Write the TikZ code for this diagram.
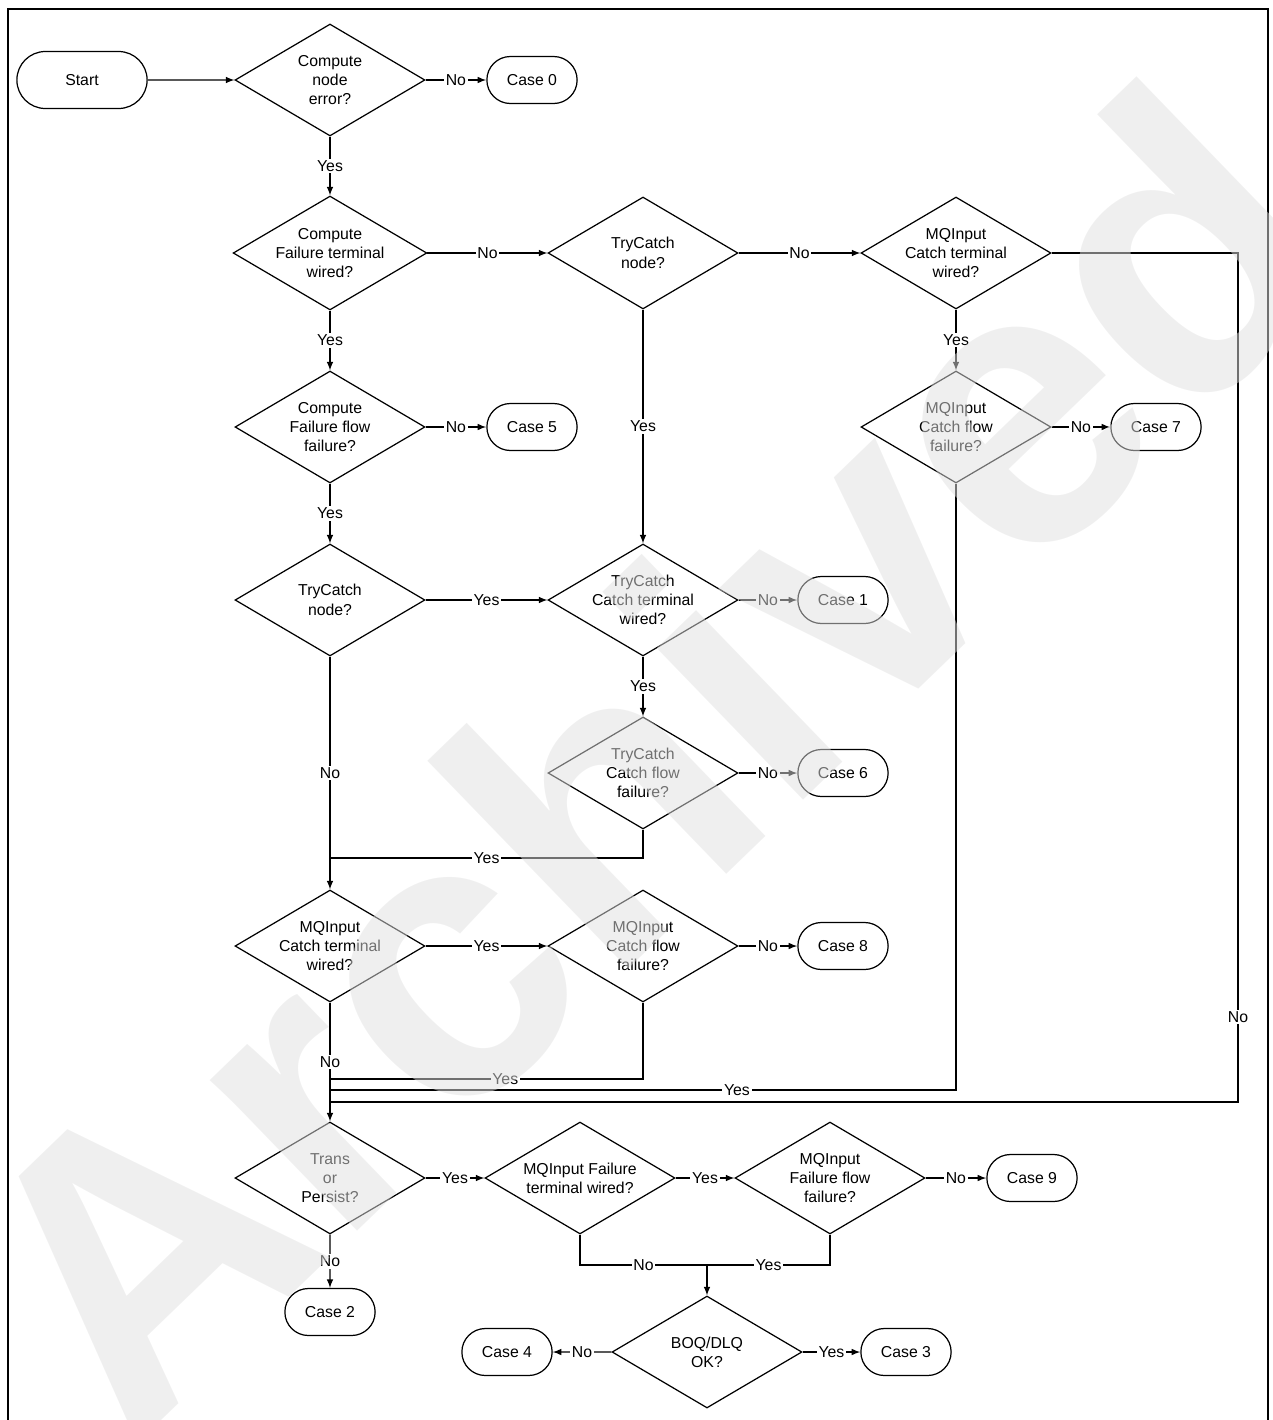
\documentclass[tikz,border=0pt]{standalone}
\usepackage{fontspec}
\setmainfont{Liberation Sans}
\usetikzlibrary{shapes.geometric,shapes.misc}

\begin{document}
\begin{tikzpicture}[x=0.02cm,y=-0.02cm,>=latex,line width=0.7pt,
    every node/.style={font=\fontsize{9}{11}\selectfont},
    decision/.style={draw,diamond,aspect=1.7,inner sep=0pt,minimum width=3.8cm,minimum height=2.24cm,align=center},
    casebox/.style={draw,rounded rectangle,minimum width=2.04cm,minimum height=0.94cm},
    lbl/.style={fill=white,inner sep=1pt},
    wmark/.style={rotate=44,text=black!12,text opacity=0.5,inner sep=0pt,font=\bfseries\fontsize{227}{227}\selectfont}]
        \useasboundingbox (0,0) rectangle (1273,1420);
        \draw[line width=1pt] (8,1420) -- (8,9) -- (1268,9) -- (1268,1420);
        \node[draw,rounded rectangle,minimum width=2.84cm,minimum height=1.14cm] (start) at (82,80) {Start};
        \node[decision] (cne) at (330,80) {Compute\\node\\error?};
        \node[decision] (cft) at (330,253) {Compute\\Failure terminal\\wired?};
        \node[decision] (cff) at (330,427) {Compute\\Failure flow\\failure?};
        \node[decision] (tcn) at (330,600) {TryCatch\\node?};
        \node[decision] (mct) at (330,946) {MQInput\\Catch terminal\\wired?};
        \node[decision] (tp) at (330,1178) {Trans\\or\\Persist?};
        \node[decision] (tcn2) at (643,253) {TryCatch\\node?};
        \node[decision] (tct) at (643,600) {TryCatch\\Catch terminal\\wired?};
        \node[decision] (tcf) at (643,773) {TryCatch\\Catch flow\\failure?};
        \node[decision] (mcf) at (643,946) {MQInput\\Catch flow\\failure?};
        \node[decision] (mct2) at (956,253) {MQInput\\Catch terminal\\wired?};
        \node[decision] (mcf2) at (956,427) {MQInput\\Catch flow\\failure?};
        \node[decision] (mft) at (580,1178) {MQInput Failure\\terminal wired?};
        \node[decision] (mff) at (830,1178) {MQInput\\Failure flow\\failure?};
        \node[decision] (bq) at (707,1352) {BOQ/DLQ\\OK?};
        \foreach \n/\x/\y/\k in {c0/532/80/0,c5/532/427/5,c7/1156/427/7,c1/843/600/1,c6/843/773/6,c8/843/946/8,c9/1032/1178/9,c2/330/1312/2,c4/507/1352/4,c3/906/1352/3}{
            \node[casebox] (\n) at (\x,\y) {Case \k};
        };
        \coordinate (j1) at (330,858);
        \coordinate (j2) at (330,1079);
        \coordinate (j3) at (330,1090);
        \coordinate (j4) at (330,1102);
        \coordinate (r4) at (1238,1102);
        \coordinate (j5) at (707,1265);
        \draw[->] (start) -- (cne);
        \draw[->] (cne) -- node[lbl]{No} (c0);
        \draw[->] (cne) -- node[lbl]{Yes} (cft);
        \draw[->] (cft) -- node[lbl]{No} (tcn2);
        \draw[->] (tcn2) -- node[lbl]{No} (mct2);
        \draw[->] (cft) -- node[lbl]{Yes} (cff);
        \draw[->] (cff) -- node[lbl]{No} (c5);
        \draw[->] (cff) -- node[lbl]{Yes} (tcn);
        \draw[->] (mct2) -- node[lbl]{Yes} (mcf2);
        \draw[->] (mcf2) -- node[lbl]{No} (c7);
        \draw[->] (tcn2) -- node[lbl]{Yes} (tct);
        \draw[->] (tcn) -- node[lbl]{Yes} (tct);
        \draw[->] (tct) -- node[lbl]{No} (c1);
        \draw[->] (tct) -- node[lbl]{Yes} (tcf);
        \draw[->] (tcf) -- node[lbl]{No} (c6);
        \draw[->] (tcn) -- node[lbl]{No} (mct);
        \draw[->] (mct) -- node[lbl]{Yes} (mcf);
        \draw[->] (mcf) -- node[lbl]{No} (c8);
        \draw[->] (mct) -- node[lbl]{No} (tp);
        \draw[->] (tp) -- node[lbl]{Yes} (mft);
        \draw[->] (mft) -- node[lbl]{Yes} (mff);
        \draw[->] (mff) -- node[lbl]{No} (c9);
        \draw[->] (tp) -- node[lbl]{No} (c2);
        \draw[->] (bq) -- node[lbl]{No} (c4);
        \draw[->] (bq) -- node[lbl]{Yes} (c3);
        \draw (tcf.south) |- node[lbl,pos=0.75]{Yes} (j1);
        \draw (mcf.south) |- node[lbl,pos=0.72]{Yes} (j2);
        \draw (mcf2.south) |- node[lbl,pos=0.675]{Yes} (j3);
        \draw (mct2.east) -| node[lbl,pos=0.95]{No} (r4) -- (j4);
        \draw (mft.south) |- node[lbl,pos=0.75]{No} (j5);
        \draw (mff.south) |- node[lbl,pos=0.75]{Yes} (j5);
        \draw[->] (j5) -- (bq);
        \node[wmark] (arch) at (645,755) {Archived};
    \end{tikzpicture}
\end{document}
